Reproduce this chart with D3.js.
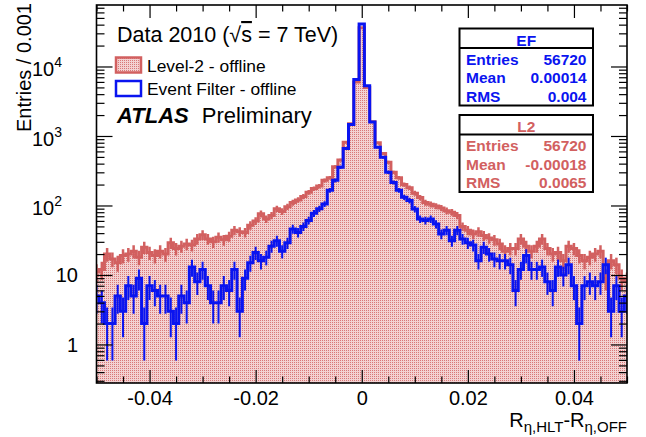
<!DOCTYPE html>
<html>
<head>
<meta charset="utf-8">
<script src="https://cdn.jsdelivr.net/npm/d3@7"></script>
<style>
  body { margin: 0; background: #fff; }
  svg { display: block; font-family: "Liberation Sans", Arial, Helvetica, sans-serif; }
</style>
</head>
<body>
<div id="chart"></div>
<script>
// one bin per 0.001, centred on the multiples of 0.001
var binCenters = d3.range(-50, 51).map(function(k) { return k / 1000; });
var binWidth = 0.001;

// Level-2 - offline
var l2Counts = [
  11, 12, 20, 17, 15, 19, 20, 22, 18, 25,
  21, 19, 22, 20, 29, 24, 26, 28, 27, 33,
  38, 33, 30, 35, 32, 36, 44, 42, 41, 52,
  60, 76, 64, 72, 90, 82, 96, 110, 120, 135,
  155, 175, 190, 230, 250, 360, 450, 810, 1500, 6000,
  36000,
  5000, 1600, 800, 560, 420, 300, 250, 200, 180, 150,
  130, 110, 104, 98, 92, 84, 80, 72, 50, 44,
  39, 42, 37, 34, 32, 28, 22, 24, 24, 33,
  26, 22, 26, 33, 24, 20, 21, 16, 26, 24,
  19, 16, 18, 20, 22, 9, 16, 14, 9, 8
];

// Event Filter - offline
var efCounts = [
  5, 4, 2, 2, 5, 3, 7, 5, 9, 2,
  7, 6, 5, 5, 3, 2, 5, 4, 13, 8,
  12, 7, 4, 4, 7, 6, 12, 3, 9, 15,
  21, 16, 18, 26, 31, 22, 29, 46, 41, 50,
  61, 77, 90, 105, 165, 230, 355, 660, 1460, 6500,
  41000,
  5300, 1590, 690, 495, 300, 215, 165, 131, 118, 89,
  64, 61, 64, 54, 39, 44, 31, 44, 33, 29,
  27, 16, 25, 20, 17, 16, 16, 14, 6, 12,
  19, 12, 12, 13, 8, 6, 13, 10, 14, 7,
  2, 7, 8, 7, 8, 14, 3, 7, 3, 5
];

var xTickValues = [-0.04, -0.02, 0, 0.02, 0.04];
var xTickLabels = ["-0.04", "-0.02", "0", "0.02", "0.04"];
var yDecades = [1, 10, 100, 1000, 10000];

var efStats = [["Entries", "56720"], ["Mean", "0.00014"], ["RMS", "0.004"]];
var l2Stats = [["Entries", "56720"], ["Mean", "-0.00018"], ["RMS", "0.0065"]];

var W = 646, H = 437;
var frame = {left: 96.5, right: 627, top: 5, bottom: 383};
var red = "#d26060", blue = "#0a14f0";

var svg = d3.select("#chart").append("svg")
    .attr("width", W)
    .attr("height", H);

var defs = svg.append("defs");
var pat = defs.append("pattern")
    .attr("id", "dots")
    .attr("patternUnits", "userSpaceOnUse")
    .attr("width", 2).attr("height", 2);
pat.append("rect").attr("width", 2).attr("height", 2).attr("fill", "#f3d2d2");
pat.append("rect").attr("width", 1).attr("height", 1).attr("fill", "#d97878");

defs.append("clipPath").attr("id", "frameClip")
  .append("rect")
    .attr("x", frame.left).attr("y", frame.top)
    .attr("width", frame.right - frame.left)
    .attr("height", frame.bottom - frame.top);

var x = d3.scaleLinear().domain([-0.05, 0.05]).range([frame.left, frame.right]);
var y = d3.scaleLog().domain([0.279, 76700]).range([frame.bottom, frame.top]);

// step points: left edge of every bin, plus the last right edge
function stepPoints(counts) {
  var pts = binCenters.map(function(c, i) { return [c - binWidth / 2, counts[i]]; });
  pts.push([binCenters[binCenters.length - 1] + binWidth / 2, counts[counts.length - 1]]);
  return pts;
}

var plot = svg.append("g").attr("clip-path", "url(#frameClip)");

var area = d3.area()
    .curve(d3.curveStepAfter)
    .x(function(d) { return x(d[0]); })
    .y0(frame.bottom)
    .y1(function(d) { return y(d[1]); });

var line = d3.line()
    .curve(d3.curveStepAfter)
    .x(function(d) { return x(d[0]); })
    .y(function(d) { return y(d[1]); });

plot.append("path")
    .datum(stepPoints(l2Counts))
    .attr("d", area)
    .attr("fill", "url(#dots)");

function errorBars(counts, color, width) {
  plot.append("g").selectAll("line")
      .data(counts)
    .enter().append("line")
      .attr("x1", function(d, i) { return x(binCenters[i]); })
      .attr("x2", function(d, i) { return x(binCenters[i]); })
      .attr("y1", function(d) { return y(Math.max(d - Math.sqrt(d), 0.2)); })
      .attr("y2", function(d) { return y(d + Math.sqrt(d)); })
      .attr("stroke", color)
      .attr("stroke-width", width);
}

errorBars(l2Counts, red, 2.5);
plot.append("path")
    .datum(stepPoints(l2Counts))
    .attr("d", line)
    .attr("fill", "none")
    .attr("stroke", red)
    .attr("stroke-width", 3);

errorBars(efCounts, blue, 2);
plot.append("path")
    .datum(stepPoints(efCounts))
    .attr("d", line)
    .attr("fill", "none")
    .attr("stroke", blue)
    .attr("stroke-width", 3);

// axes: ticks point into the frame
var xMinor = d3.range(-0.05, 0.0501, 0.005).filter(function(v) {
  return Math.abs(Math.round(v * 1000) % 20) !== 0;
});
var yMinor = [];
[0.1, 1, 10, 100, 1000, 10000].forEach(function(dec) {
  for (var m = 2; m <= 9; m++) {
    var v = dec * m;
    if (v > y.domain()[0] && v < y.domain()[1]) yMinor.push(v);
  }
});

function addAxis(axis, tx, ty) {
  var g = svg.append("g")
      .attr("transform", "translate(" + tx + "," + ty + ")")
      .call(axis);
  g.select(".domain").remove();
  g.selectAll("line").attr("stroke", "#000").attr("stroke-width", 1.2);
  return g;
}

var xAxis = addAxis(d3.axisBottom(x).tickValues(xTickValues)
    .tickSizeInner(-13).tickSizeOuter(0).tickPadding(8)
    .tickFormat(function(d, i) { return xTickLabels[i]; }), 0, frame.bottom);
xAxis.selectAll("text")
    .attr("fill", "#000")
    .style("font-size", "20px")
    .style("font-family", "'Liberation Sans', Arial, sans-serif");

addAxis(d3.axisBottom(x).tickValues(xMinor).tickSize(-6.5).tickFormat(""), 0, frame.bottom);
addAxis(d3.axisTop(x).tickValues(xTickValues).tickSize(-13).tickFormat(""), 0, frame.top);
addAxis(d3.axisTop(x).tickValues(xMinor).tickSize(-6.5).tickFormat(""), 0, frame.top);

addAxis(d3.axisLeft(y).tickValues(yDecades).tickSize(-16).tickFormat(""), frame.left, 0);
addAxis(d3.axisLeft(y).tickValues(yMinor).tickSize(-8).tickFormat(""), frame.left, 0);
addAxis(d3.axisRight(y).tickValues(yDecades).tickSize(-16).tickFormat(""), frame.right, 0);
addAxis(d3.axisRight(y).tickValues(yMinor).tickSize(-8).tickFormat(""), frame.right, 0);

// y tick labels, 10^n written with a raised exponent
yDecades.forEach(function(v) {
  var ex = Math.round(Math.log10(v));
  var t = svg.append("text").attr("font-size", 20).attr("fill", "#000");
  if (ex < 2) {
    t.attr("x", 78).attr("y", y(v) + 7.5).attr("text-anchor", "end").text(String(v));
  } else {
    t.attr("x", 32).attr("y", y(v) + 10);
    t.append("tspan").text("10");
    t.append("tspan").attr("font-size", 14).attr("dy", -9).text(String(ex));
  }
});

svg.append("rect")
    .attr("x", frame.left).attr("y", frame.top)
    .attr("width", frame.right - frame.left)
    .attr("height", frame.bottom - frame.top)
    .attr("fill", "none")
    .attr("stroke", "#000")
    .attr("stroke-width", 1.6);

// axis titles
svg.append("text")
    .attr("transform", "translate(31,3) rotate(-90)")
    .attr("text-anchor", "end")
    .attr("font-size", 20)
    .text("Entries / 0.001");

var xt = svg.append("text")
    .attr("x", 627).attr("y", 427)
    .attr("text-anchor", "end")
    .attr("font-size", 20);
xt.append("tspan").text("R");
xt.append("tspan").attr("font-size", 15).attr("dy", 5).text("\u03b7,HLT");
xt.append("tspan").attr("dy", -5).text("-R");
xt.append("tspan").attr("font-size", 15).attr("dy", 5).text("\u03b7,OFF");

// labels and legend
var dl = svg.append("text").attr("x", 117).attr("y", 42).attr("font-size", 21.5);
dl.append("tspan").text("Data 2010 (\u221a");
dl.append("tspan").style("text-decoration", "overline").text("s");
dl.append("tspan").text(" = 7 TeV)");

svg.append("rect")
    .attr("x", 116).attr("y", 57.5).attr("width", 25).attr("height", 15)
    .attr("fill", "url(#dots)").attr("stroke", red).attr("stroke-width", 2.5);
svg.append("text").attr("x", 147).attr("y", 71.5).attr("font-size", 17.4)
    .text("Level-2 - offline");

svg.append("rect")
    .attr("x", 116).attr("y", 81).attr("width", 25).attr("height", 15)
    .attr("fill", "#fff").attr("stroke", blue).attr("stroke-width", 2.5);
svg.append("text").attr("x", 147).attr("y", 95).attr("font-size", 17.4)
    .text("Event Filter - offline");

var at = svg.append("text").attr("x", 117).attr("y", 123).attr("font-size", 22);
at.append("tspan").attr("font-weight", "bold").attr("font-style", "italic").text("ATLAS");
at.append("tspan").attr("dx", 13).text("Preliminary");

// stats boxes
function statsBox(top, title, rows, color) {
  var left = 459.5, right = 593, h = 77;
  var g = svg.append("g");
  g.append("rect")
      .attr("x", left).attr("y", top)
      .attr("width", right - left).attr("height", h)
      .attr("fill", "#fff").attr("stroke", "#000").attr("stroke-width", 2);
  g.append("line")
      .attr("x1", left).attr("x2", right)
      .attr("y1", top + 19.5).attr("y2", top + 19.5)
      .attr("stroke", "#000").attr("stroke-width", 2);
  g.append("text")
      .attr("x", (left + right) / 2).attr("y", top + 17)
      .attr("text-anchor", "middle")
      .attr("font-size", 15.5).attr("font-weight", "bold").attr("fill", color)
      .text(title);
  rows.forEach(function(r, i) {
    var by = top + 36 + i * 18.5;
    g.append("text").attr("x", left + 6.5).attr("y", by)
        .attr("font-size", 15.5).attr("font-weight", "bold").attr("fill", color)
        .text(r[0]);
    g.append("text").attr("x", right - 6.5).attr("y", by)
        .attr("text-anchor", "end")
        .attr("font-size", 15.5).attr("font-weight", "bold").attr("fill", color)
        .text(r[1]);
  });
}

statsBox(28.5, "EF", efStats, blue);
statsBox(115, "L2", l2Stats, red);
</script>
</body>
</html>
